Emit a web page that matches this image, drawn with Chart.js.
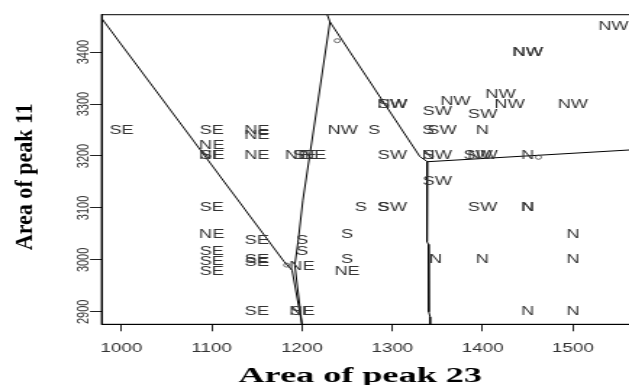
<!DOCTYPE html>
<html lang="en">
<head>
<meta charset="UTF-8">
<title>Area of peak 23 vs Area of peak 11</title>
<script src="https://cdn.jsdelivr.net/npm/chart.js"></script>
<style>
  html, body { margin: 0; padding: 0; background: #fff; overflow: hidden; }
  #chart { display: block; }
</style>
</head>
<body>
<!-- the original figure is stretched sideways, so the canvas is too -->
<canvas id="chart" width="445" height="385" style="width:645.25px;height:385px"></canvas>
<script>
// samples: area of peak 23, area of peak 11, direction label
const sampleX = [1545, 1450, 1450,
  1300, 1300, 1350, 1370, 1420, 1430, 1400, 1500,
  1000, 1100, 1150, 1150, 1245, 1280, 1340, 1355, 1400,
  1100,
  1100, 1100, 1150, 1195, 1203, 1213, 1300, 1340, 1350, 1395, 1400, 1450,
  1350,
  1100, 1265, 1290, 1300, 1400, 1450, 1450,
  1100, 1150, 1200, 1200, 1250, 1500,
  1100, 1100, 1100, 1150, 1150, 1200, 1250, 1250, 1348, 1400, 1500,
  1150, 1200, 1200, 1450, 1500];
const sampleY = [3450, 3400, 3400,
  3300, 3300, 3285, 3305, 3318, 3300, 3280, 3300,
  3250, 3250, 3250, 3240, 3250, 3250, 3250, 3250, 3250,
  3220,
  3200, 3200, 3200, 3200, 3200, 3200, 3200, 3200, 3200, 3200, 3200, 3200,
  3150,
  3100, 3100, 3100, 3100, 3100, 3100, 3100,
  3048, 3037, 3038, 3016, 3048, 3048,
  3016, 2997, 2977, 3000, 2994, 2988, 3000, 2978, 3000, 3000, 3000,
  2900, 2900, 2900, 2900, 2900];
const sampleLabel = ['NW', 'NW', 'NW',
  'SW', 'NW', 'SW', 'NW', 'NW', 'NW', 'SW', 'NW',
  'SE', 'SE', 'NE', 'NE', 'NW', 'S', 'S', 'SW', 'N',
  'NE',
  'SE', 'NE', 'NE', 'NE', 'SE', 'NE', 'SW', 'N', 'SW', 'SW', 'NW', 'N',
  'SW',
  'SE', 'S', 'S', 'SW', 'SW', 'N', 'N',
  'NE', 'SE', 'S', 'S', 'S', 'N',
  'SE', 'SE', 'SE', 'SE', 'SE', 'NE', 'S', 'NE', 'N', 'N', 'N',
  'SE', 'NE', 'SE', 'N', 'N'];

// small open circles
const markX = [1239, 1462, 1183];
const markY = [3422, 3197.5, 2990];

// region boundaries
const boundaryA = [[975, 3472], [1180, 2997], [1189, 2980], [1200, 2876]];
const boundaryB = [[1228, 3472], [1231, 3458], [1201, 3115], [1196, 3040], [1192, 2990], [1200, 2876]];
const boundaryC = [[1231, 3458], [1330.6, 3198.7], [1339, 3189]];
const boundaryD = [[1339, 3189], [1570, 3212.3]];
const boundaryE = [[1339, 3189], [1338.5, 3035], [1340, 3030], [1340.5, 2900], [1342, 2890], [1342, 2876]];

const xTicks = [1000, 1100, 1200, 1300, 1400, 1500];
const yTicks = [2900, 3000, 3100, 3200, 3300, 3400];
const xTitle = 'Area of peak 23';
const yTitle = 'Area of peak 11';

const toXY = pts => pts.map(([x, y]) => ({x: x, y: y}));
const lineSet = pts => ({
  data: toXY(pts), showLine: true, pointRadius: 0,
  borderColor: '#000', borderWidth: 1, fill: false
});

// text labels drawn at the scatter points
const textLabels = {
  id: 'textLabels',
  afterDatasetsDraw(chart) {
    const ctx = chart.ctx;
    const meta = chart.getDatasetMeta(0);
    ctx.save();
    ctx.font = '12.6px "Liberation Sans", Arial, sans-serif';
    ctx.fillStyle = '#333';
    ctx.textAlign = 'center';
    ctx.textBaseline = 'middle';
    meta.data.forEach((pt, i) => ctx.fillText(sampleLabel[i], pt.x, pt.y));
    ctx.restore();
  }
};

// box round the plot and the two axis titles
const frameAndTitles = {
  id: 'frameAndTitles',
  afterDraw(chart) {
    const ctx = chart.ctx;
    const a = chart.chartArea;
    ctx.save();
    ctx.strokeStyle = '#000';
    ctx.lineWidth = 1;
    ctx.strokeRect(a.left, a.top, a.right - a.left, a.bottom - a.top);

    ctx.fillStyle = '#000';
    ctx.textAlign = 'center';
    ctx.font = 'bold 20px "Liberation Serif", "Times New Roman", serif';
    ctx.textBaseline = 'alphabetic';
    let w = ctx.measureText(xTitle).width;
    ctx.save();
    ctx.translate(248.5, 381.5);
    ctx.scale(168 / w, 1);
    ctx.fillText(xTitle, 0, 0);
    ctx.restore();

    ctx.font = 'bold 22px "Liberation Serif", "Times New Roman", serif';
    ctx.textBaseline = 'middle';
    w = ctx.measureText(yTitle).width;
    ctx.translate(17.9, 176.7);
    ctx.scale(0.76, 1);
    ctx.rotate(-Math.PI / 2);
    ctx.scale(147 / w, 1);
    ctx.fillText(yTitle, 0, 0);
    ctx.restore();
  }
};

new Chart(document.getElementById('chart'), {
  type: 'scatter',
  data: {
    datasets: [
      {
        data: sampleX.map((x, i) => ({x: x, y: sampleY[i]})),
        pointRadius: 0
      },
      {
        data: markX.map((x, i) => ({x: x, y: markY[i]})),
        pointRadius: 2, pointBorderWidth: 0.8,
        borderColor: '#444', backgroundColor: 'rgba(0,0,0,0)'
      },
      lineSet(boundaryA),
      lineSet(boundaryB),
      lineSet(boundaryC),
      lineSet(boundaryD),
      lineSet(boundaryE)
    ]
  },
  options: {
    responsive: false,
    devicePixelRatio: 1,
    animation: false,
    layout: { padding: { top: 14.7, right: 8.1, left: 0, bottom: 0 } },
    plugins: {
      legend: { display: false },
      tooltip: { enabled: false }
    },
    scales: {
      x: {
        type: 'linear', min: 978, max: 1567,
        afterBuildTicks: s => { s.ticks = xTicks.map(v => ({value: v})); },
        afterFit: s => { s.height = 60.7; s.paddingLeft = 0; s.paddingRight = 0; },
        grid: { drawOnChartArea: false, drawTicks: true, tickLength: 7, color: '#222' },
        border: { display: true, color: '#000', width: 1 },
        ticks: {
          font: { family: '"Liberation Sans", Arial, sans-serif', size: 13 },
          color: '#333', padding: 9, maxRotation: 0, autoSkip: false,
          callback: v => String(v)
        }
      },
      y: {
        type: 'linear', min: 2876, max: 3472,
        afterBuildTicks: s => { s.ticks = yTicks.map(v => ({value: v})); },
        afterFit: s => { s.width = 70.1; s.paddingTop = 0; s.paddingBottom = 0; },
        grid: { drawOnChartArea: false, drawTicks: true, tickLength: 8, color: '#222' },
        border: { display: true, color: '#000', width: 1 },
        ticks: {
          font: { family: '"Liberation Sans", Arial, sans-serif', size: 11 },
          color: '#333', padding: -8, minRotation: 90, maxRotation: 90,
          crossAlign: 'center', autoSkip: false,
          callback: v => String(v)
        }
      }
    }
  },
  plugins: [textLabels, frameAndTitles]
});
</script>
</body>
</html>
